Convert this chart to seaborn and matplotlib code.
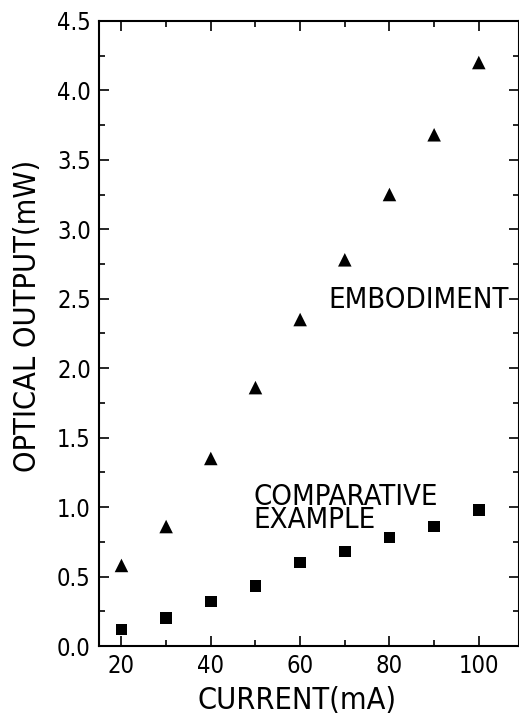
import seaborn as sns
import pandas as pd
import matplotlib.pyplot as plt
from matplotlib.ticker import MultipleLocator

current = [20, 30, 40, 50, 60, 70, 80, 90, 100]
embodiment = [0.58, 0.86, 1.35, 1.86, 2.35, 2.78, 3.25, 3.68, 4.20]
comparative = [0.12, 0.20, 0.32, 0.43, 0.60, 0.68, 0.78, 0.86, 0.98]

df = pd.DataFrame({
    'current': current * 2,
    'output': embodiment + comparative,
    'series': ['EMBODIMENT'] * len(current) + ['COMPARATIVE EXAMPLE'] * len(current),
})

sns.set_style('ticks')
plt.rcParams['font.family'] = ['DejaVu Sans']
plt.rcParams['font.stretch'] = 'condensed'
plt.rcParams['text.color'] = 'black'
plt.rcParams['axes.labelcolor'] = 'black'
plt.rcParams['xtick.direction'] = 'in'
plt.rcParams['ytick.direction'] = 'in'

fig = plt.figure(figsize=(5.19, 7.19), dpi=100)
ax = fig.add_axes([0.191, 0.1015, 0.809, 0.8695])

sns.scatterplot(data=df, x='current', y='output', style='series',
                markers={'EMBODIMENT': '^', 'COMPARATIVE EXAMPLE': 's'},
                size='series', sizes={'EMBODIMENT': 95, 'COMPARATIVE EXAMPLE': 70},
                color='black', edgecolor='black', linewidth=0, legend=False, ax=ax)

ax.set_xlim(15, 109)
ax.set_ylim(0, 4.5)
ax.xaxis.set_major_locator(MultipleLocator(20))
ax.xaxis.set_minor_locator(MultipleLocator(10))
ax.yaxis.set_major_locator(MultipleLocator(0.5))
ax.yaxis.set_minor_locator(MultipleLocator(0.25))
ax.yaxis.set_major_formatter(plt.FormatStrFormatter('%.1f'))
ax.tick_params(which='both', top=True, right=True, width=1.2, labelsize=17, colors='black')
ax.tick_params(which='major', length=7, pad=6)
ax.tick_params(which='minor', length=4)
for sp in ax.spines.values():
    sp.set_linewidth(1.5)
    sp.set_color('black')

ax.set_xlabel('CURRENT(mA)', fontsize=22)
ax.set_ylabel('OPTICAL OUTPUT(mW)', fontsize=22)
ax.xaxis.set_label_coords(0.471, -0.064)
ax.yaxis.set_label_coords(-0.136, 0.528)

ax.text(66.3, 2.49, 'EMBODIMENT', fontsize=21, va='center', ha='left')
ax.text(49.5, 0.99, 'COMPARATIVE\nEXAMPLE', fontsize=21, va='center', ha='left',
        linespacing=0.8)

plt.savefig('out.png', dpi=100)
